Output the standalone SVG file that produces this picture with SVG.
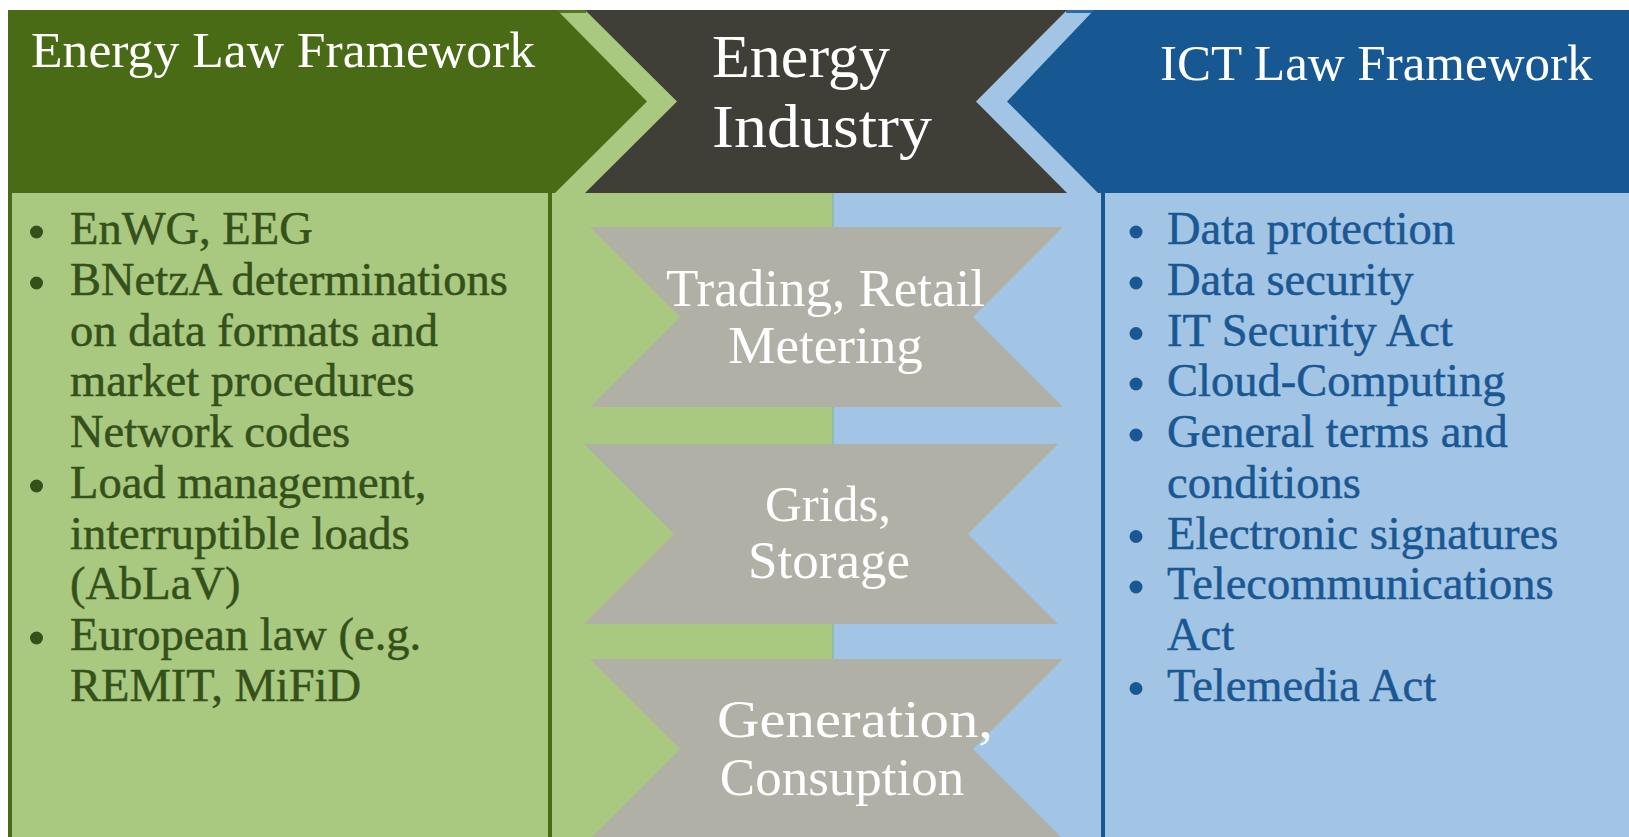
<svg xmlns="http://www.w3.org/2000/svg" width="1629" height="837" viewBox="0 0 1629 837">
<style>
.hdr{font-family:"Liberation Serif","Times New Roman",serif;fill:#ffffff;font-size:51px}
.ban{font-family:"Liberation Serif","Times New Roman",serif;fill:#ffffff;font-size:53px;text-anchor:middle}
.lb{font-family:"Liberation Serif","Times New Roman",serif;fill:#35501a;stroke:#35501a;stroke-width:0.5px;font-size:46.5px}
.rb{font-family:"Liberation Serif","Times New Roman",serif;fill:#1b5893;stroke:#1b5893;stroke-width:0.5px;font-size:46.5px}
.banshape{fill:#b0b0a7}
</style>
<rect width="1629" height="837" fill="#ffffff"/>
<g id="background">
<rect x="530" y="10" width="303" height="827" fill="#a9c880"/>
<rect x="833" y="10" width="796" height="827" fill="#a2c5e6"/>
<rect x="556" y="10" width="30" height="3" fill="#4f7a1e"/>
<rect x="1066" y="10" width="30" height="3" fill="#2a6aa8"/>
<rect x="832.5" y="193" width="1" height="644" fill="#86aab0"/>
</g>
<g id="energy-law">
<polygon points="8,10 557,10 647,101.5 555,193 8,193" fill="#496b15"/>
<text class="hdr" x="31" y="67" textLength="504" lengthAdjust="spacingAndGlyphs">Energy Law Framework</text>
<rect x="8" y="193" width="543" height="644" fill="#a9c880"/>
<rect x="8" y="193" width="4" height="644" fill="#496b15"/>
<rect x="548" y="193" width="4" height="644" fill="#496b15"/>
<g fill="#35501a">
<circle cx="36.5" cy="232" r="6.5"/>
<circle cx="36.5" cy="283" r="6.5"/>
<circle cx="36.5" cy="486" r="6.5"/>
<circle cx="36.5" cy="638" r="6.5"/>
</g>
<text class="lb" x="70" y="244">EnWG, EEG</text>
<text class="lb" x="70" y="295">BNetzA determinations</text>
<text class="lb" x="70" y="345.5">on data formats and</text>
<text class="lb" x="70" y="396">market procedures</text>
<text class="lb" x="70" y="447">Network codes</text>
<text class="lb" x="70" y="498">Load management,</text>
<text class="lb" x="70" y="548.5">interruptible loads</text>
<text class="lb" x="70" y="599">(AbLaV)</text>
<text class="lb" x="70" y="650">European law (e.g.</text>
<text class="lb" x="70" y="700.5">REMIT, MiFiD</text>
</g>
<g id="energy-industry">
<polygon points="585,10 1067,10 976,101.5 1067,193 585,193 677,101.5" fill="#3f3e37"/>
<text class="hdr" x="712" y="77" style="font-size:62px">Energy</text>
<text class="hdr" x="712" y="147" style="font-size:62px" textLength="220" lengthAdjust="spacingAndGlyphs">Industry</text>
</g>
<g id="ict-law">
<polygon points="1094,10 1629,10 1629,193 1098,193 1007,101.5" fill="#185892"/>
<text class="hdr" x="1160" y="80">ICT Law Framework</text>
<rect x="1101" y="193" width="4" height="644" fill="#185892"/>
<g fill="#1b5893">
<circle cx="1136" cy="232" r="6.5"/>
<circle cx="1136" cy="283" r="6.5"/>
<circle cx="1136" cy="333.5" r="6.5"/>
<circle cx="1136" cy="384" r="6.5"/>
<circle cx="1136" cy="435" r="6.5"/>
<circle cx="1136" cy="536.5" r="6.5"/>
<circle cx="1136" cy="587" r="6.5"/>
<circle cx="1136" cy="688.5" r="6.5"/>
</g>
<text class="rb" x="1167" y="244">Data protection</text>
<text class="rb" x="1167" y="295">Data security</text>
<text class="rb" x="1167" y="345.5">IT Security Act</text>
<text class="rb" x="1167" y="396">Cloud-Computing</text>
<text class="rb" x="1167" y="447">General terms and</text>
<text class="rb" x="1167" y="498">conditions</text>
<text class="rb" x="1167" y="548.5">Electronic signatures</text>
<text class="rb" x="1167" y="599">Telecommunications</text>
<text class="rb" x="1167" y="650">Act</text>
<text class="rb" x="1167" y="700.5">Telemedia Act</text>
</g>
<g id="trading">
<polygon class="banshape" points="590,227 1063,227 973,317 1063,407 590,407 680,317"/>
<text class="ban" x="825.5" y="306">Trading, Retail</text>
<text class="ban" x="825.5" y="363">Metering</text>
</g>
<g id="grids">
<polygon class="banshape" points="584,444 1058,444 968,534 1058,624 584,624 674,534"/>
<text class="ban" x="828" y="521" style="font-size:51px">Grids,</text>
<text class="ban" x="829" y="578">Storage</text>
</g>
<g id="generation">
<polygon class="banshape" points="590,659 1063,659 973,749 1063,839 590,839 680,749"/>
<text class="ban" x="855" y="737" textLength="276" lengthAdjust="spacingAndGlyphs">Generation,</text>
<text class="ban" x="842" y="795">Consuption</text>
</g>
<g id="connectors"></g>
</svg>
